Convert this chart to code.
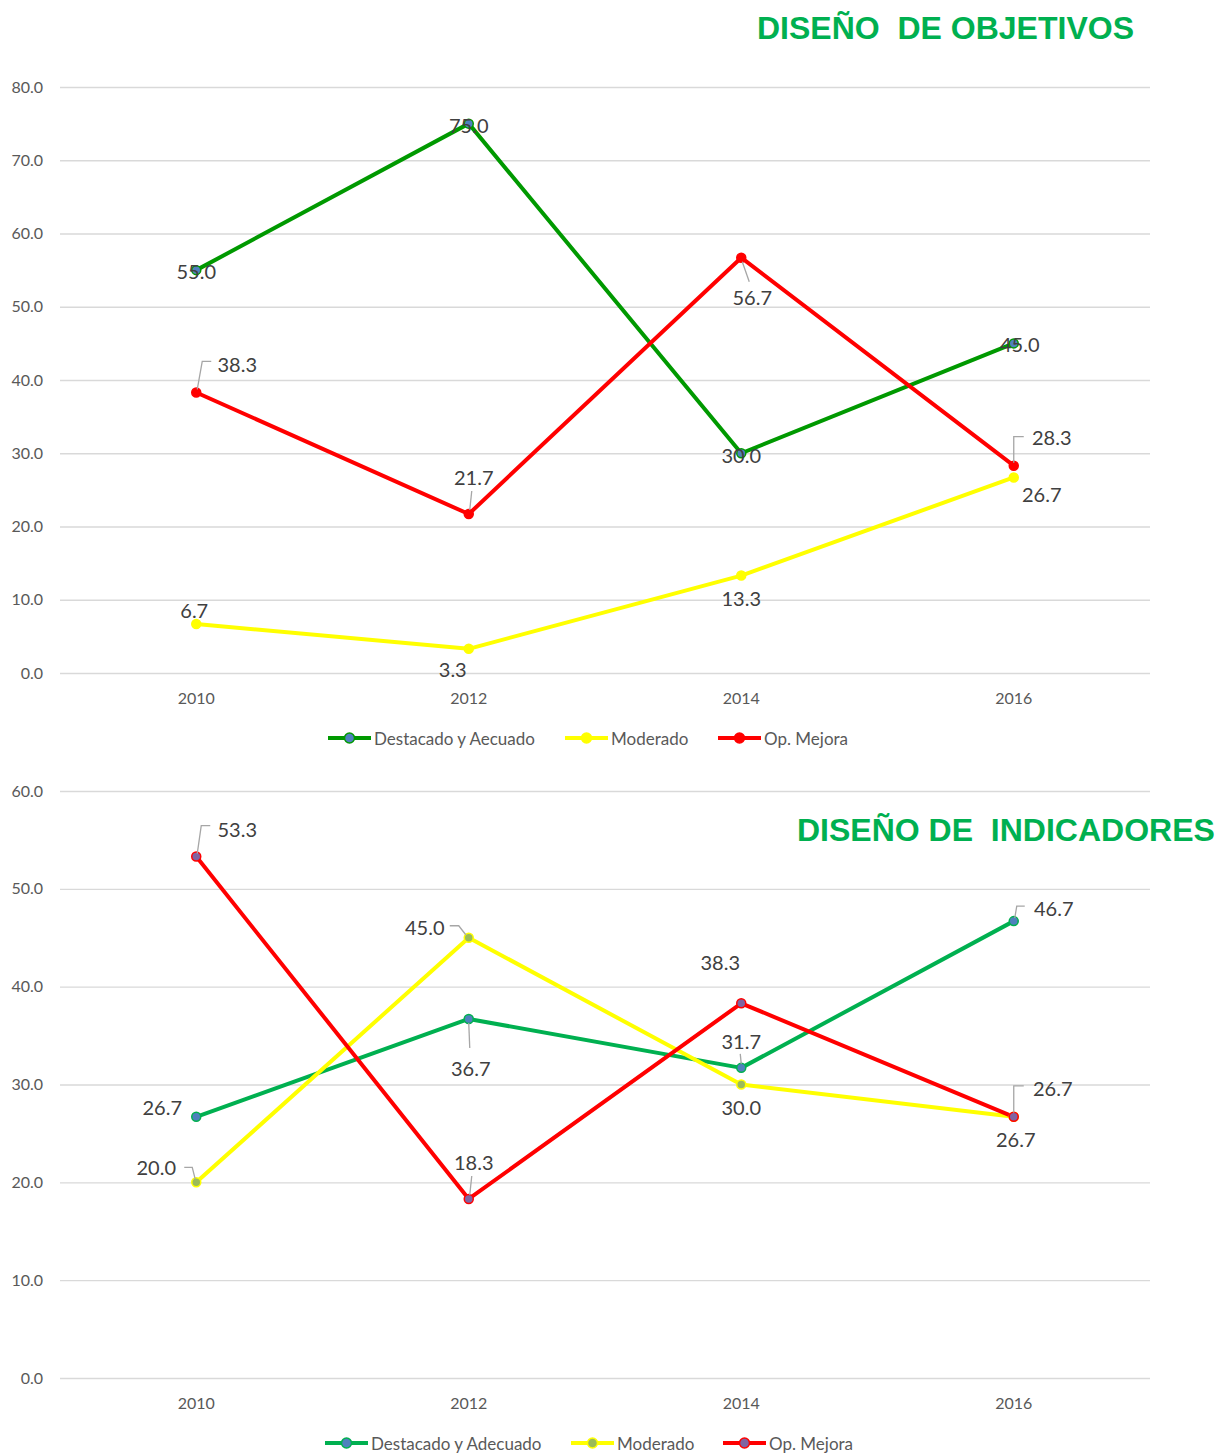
<!DOCTYPE html>
<html>
<head>
<meta charset="utf-8">
<script src="https://cdn.jsdelivr.net/npm/d3@7"></script>
<style>
  body { margin: 0; background: #fff; }
</style>
</head>
<body>
<div id="chart"></div>
<script>
const years = ['2010', '2012', '2014', '2016']

// Diseño de objetivos
const objDestacado = [55.0, 75.0, 30.0, 45.0]
const objModerado = [6.7, 3.3, 13.3, 26.7]
const objMejora = [38.3, 21.7, 56.7, 28.3]

// Diseño de indicadores
const indDestacado = [26.7, 36.7, 31.7, 46.7]
const indModerado = [20.0, 45.0, 30.0, 26.7]
const indMejora = [53.3, 18.3, 38.3, 26.7]

const objTitle = 'DISEÑO  DE OBJETIVOS'
const indTitle = 'DISEÑO DE  INDICADORES'
const objNames = ['Destacado y Aecuado', 'Moderado', 'Op. Mejora']
const indNames = ['Destacado y Adecuado', 'Moderado', 'Op. Mejora']

const width = 1217
const height = 1453

const svg = d3
  .select('#chart')
  .append('svg')
  .attr('width', width)
  .attr('height', height)
  .style('font-family', 'Lato, "Open Sans", sans-serif')

svg.append('rect').attr('width', width).attr('height', height).attr('fill', '#fff')

const x = d3
  .scalePoint()
  .domain(years)
  .range([60, 1150])
  .padding(0.5)

// label placement: [dx, dy, leader points relative to the mark]
const objLabels = [
  [[0, 1], [0, 1], [0, 2], [6, 1]].map(d => ({ dx: d[0], dy: d[1] })),
  [[-2, -14], [-16, 20], [0, 22], [28, 17]].map(d => ({ dx: d[0], dy: d[1] })),
  [
    { dx: 41, dy: -28, leader: [[1, -3], [6, -31], [15, -31]] },
    { dx: 5, dy: -37, leader: [[1, -4], [3, -23]] },
    { dx: 11, dy: 39, leader: [[1, 4], [8, 24]] },
    { dx: 38, dy: -29, leader: [[0, -3], [0, -29], [10, -29]] }
  ]
]

const indLabels = [
  [
    { dx: -34, dy: -10 },
    { dx: 2, dy: 49, leader: [[0, 4], [1, 29]] },
    { dx: 0, dy: -27, leader: [[0, -4], [-1, -14]] },
    { dx: 40, dy: -13, leader: [[1, -3], [3, -15], [11, -15]] }
  ],
  [
    { dx: -40, dy: -15, leader: [[-1, -3], [-4, -15], [-12, -15]] },
    { dx: -44, dy: -11, leader: [[-3, -3], [-10, -12], [-19, -12]] },
    { dx: 0, dy: 22 },
    { dx: 2, dy: 22 }
  ],
  [
    { dx: 41, dy: -28, leader: [[1, -3], [5, -31], [14, -31]] },
    { dx: 5, dy: -37, leader: [[1, -4], [3, -23]] },
    { dx: -21, dy: -41 },
    { dx: 39, dy: -29, leader: [[0, -4], [0, -31], [10, -31]] }
  ]
]

drawChart({
  series: [objDestacado, objModerado, objMejora],
  names: objNames,
  lineColors: ['#009900', '#ffff00', '#ff0000'],
  markerFills: ['#4f81bd', '#ffff00', '#ff0000'],
  labels: objLabels,
  yMax: 80,
  yRange: [673, 87],
  xLabelY: 697,
  legendY: 738,
  legendX: [328, 565, 718],
  title: objTitle,
  titlePos: [757, 39]
})

drawChart({
  series: [indDestacado, indModerado, indMejora],
  names: indNames,
  lineColors: ['#00b050', '#ffff00', '#ff0000'],
  markerFills: ['#4f81bd', '#9bbb59', '#8064a2'],
  labels: indLabels,
  yMax: 60,
  yRange: [1378, 791],
  xLabelY: 1402,
  legendY: 1443,
  legendX: [325, 571, 723],
  title: indTitle,
  titlePos: [797, 841]
})

function drawChart(cfg) {
  const g = svg.append('g')

  const y = d3
    .scaleLinear()
    .domain([0, cfg.yMax])
    .range(cfg.yRange)

  // gridlines + y tick labels
  const yAxis = d3
    .axisLeft(y)
    .ticks(cfg.yMax / 10)
    .tickSize(-(1150 - 60))
    .tickPadding(17)
    .tickFormat(d3.format('.1f'))

  g.append('g')
    .attr('transform', 'translate(60,0)')
    .call(yAxis)
    .call(a => a.select('.domain').remove())
    .call(a => a.selectAll('line').attr('stroke', '#d9d9d9').attr('stroke-width', 1.3))
    .call(a =>
      a
        .selectAll('text')
        .attr('fill', '#595959')
        .style('font-size', '16px')
        .style('font-family', 'Lato, sans-serif')
    )

  // x labels
  g.selectAll('.x-label')
    .data(years)
    .enter()
    .append('text')
    .attr('class', 'x-label')
    .attr('x', d => x(d))
    .attr('y', cfg.xLabelY)
    .attr('text-anchor', 'middle')
    .attr('dominant-baseline', 'central')
    .style('font-size', '16px')
    .attr('fill', '#595959')
    .text(d => d)

  const line = d3
    .line()
    .x((d, i) => x(years[i]))
    .y(d => y(d))

  cfg.series.forEach((values, s) => {
    g.append('path')
      .datum(values)
      .attr('d', line)
      .attr('fill', 'none')
      .attr('stroke', cfg.lineColors[s])
      .attr('stroke-width', 4)
      .attr('stroke-linejoin', 'round')
  })

  cfg.series.forEach((values, s) => {
    g.selectAll('.marker-' + s)
      .data(values)
      .enter()
      .append('circle')
      .attr('class', 'marker-' + s)
      .attr('cx', (d, i) => x(years[i]))
      .attr('cy', d => y(d))
      .attr('r', 4.5)
      .attr('fill', cfg.markerFills[s])
      .attr('stroke', cfg.lineColors[s])
      .attr('stroke-width', 1.5)
  })

  // data labels and leader lines
  cfg.series.forEach((values, s) => {
    values.forEach((v, i) => {
      const px = x(years[i])
      const py = y(v)
      const lab = cfg.labels[s][i]
      if (lab.leader) {
        g.append('polyline')
          .attr('points', lab.leader.map(p => [px + p[0], py + p[1]].join(',')).join(' '))
          .attr('fill', 'none')
          .attr('stroke', '#a6a6a6')
          .attr('stroke-width', 1.3)
      }
      g.append('text')
        .attr('x', px + lab.dx)
        .attr('y', py + lab.dy)
        .attr('text-anchor', 'middle')
        .attr('dominant-baseline', 'central')
        .style('font-size', '20px')
        .attr('fill', '#404040')
        .text(d3.format('.1f')(v))
    })
  })

  // legend
  cfg.names.forEach((name, s) => {
    const lx = cfg.legendX[s]
    const lg = g.append('g').attr('transform', `translate(${lx},${cfg.legendY})`)
    lg.append('line')
      .attr('x1', 0)
      .attr('x2', 43)
      .attr('stroke', cfg.lineColors[s])
      .attr('stroke-width', 4)
    lg.append('circle')
      .attr('cx', 21.5)
      .attr('r', 5)
      .attr('fill', cfg.markerFills[s])
      .attr('stroke', cfg.lineColors[s])
      .attr('stroke-width', 1.5)
    lg.append('text')
      .attr('x', 46)
      .attr('dominant-baseline', 'central')
      .style('font-size', '17px')
      .attr('fill', '#595959')
      .text(name)
  })

  // title
  g.append('text')
    .attr('x', cfg.titlePos[0])
    .attr('y', cfg.titlePos[1])
    .style('font-family', '"Liberation Sans", Arial, sans-serif')
    .style('font-weight', 'bold')
    .style('font-size', '32px')
    .style('white-space', 'pre')
    .attr('fill', '#00b050')
    .text(cfg.title)
}
</script>
</body>
</html>
